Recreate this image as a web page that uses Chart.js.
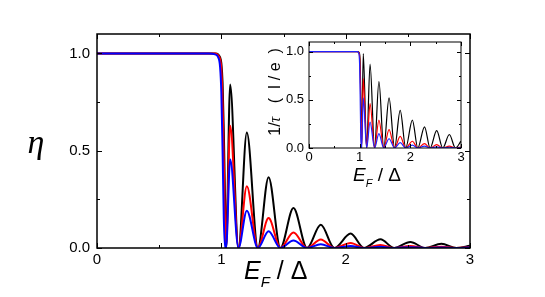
<!DOCTYPE html>
<html><head><meta charset="utf-8">
<script src="https://cdn.jsdelivr.net/npm/chart.js@4/dist/chart.umd.min.js"></script>
<style>
html,body{margin:0;padding:0;background:#fff;}
#wrap{position:relative;width:545px;height:297px;}
canvas{position:absolute;left:0;top:0;}
</style></head>
<body><div id="wrap"><canvas id="main" width="545" height="297"></canvas><canvas id="inset" width="545" height="297"></canvas></div>
<script>
// E_F / Delta sample positions (shared by all curves)
const xE = [0, 0.9, 0.95, 0.975, 0.99, 1.0, 1.01, 1.02, 1.03, 1.038, 1.071, 1.138, 1.205, 1.294, 1.38, 1.475, 1.58, 1.689, 1.80, 1.909, 2.04, 2.147, 2.28, 2.39, 2.52, 2.64, 2.77, 2.89, 3.0];
// main panel: eta
const etaBlack = [1, 1, 1, 0.995, 0.98, 0.95, 0.85, 0.6, 0.25, 0, 0.84, 0, 0.594, 0, 0.364, 0, 0.206, 0, 0.12, 0, 0.074, 0, 0.045, 0, 0.031, 0, 0.022, 0, 0.012];
const etaRed   = [1, 1, 1, 0.99, 0.97, 0.92, 0.75, 0.45, 0.12, 0, 0.628, 0, 0.317, 0, 0.154, 0, 0.08, 0, 0.044, 0, 0.026, 0, 0.016, 0, 0.01, 0, 0.007, 0, 0.004];
const etaBlue  = [1, 1, 0.995, 0.98, 0.93, 0.8, 0.5, 0.15, 0, 0, 0.456, 0, 0.192, 0, 0.086, 0, 0.038, 0, 0.019, 0, 0.01, 0, 0.006, 0, 0.004, 0, 0.003, 0, 0.002];
// inset: 1/tau (I/e)
const tauBlack = [1, 1, 1, 0.998, 0.99, 0.97, 0.88, 0.6, 0.25, 0, 0.98, 0, 0.87, 0, 0.69, 0, 0.52, 0, 0.39, 0, 0.29, 0, 0.22, 0, 0.18, 0, 0.14, 0, 0.07];
const tauRed   = [1, 1, 1, 0.995, 0.98, 0.94, 0.8, 0.5, 0.15, 0, 0.72, 0, 0.46, 0, 0.29, 0, 0.19, 0, 0.12, 0, 0.07, 0, 0.045, 0, 0.034, 0, 0.02, 0, 0.01];
const tauBlue  = [1, 1, 1, 0.99, 0.96, 0.85, 0.55, 0.18, 0, 0, 0.52, 0, 0.27, 0, 0.15, 0, 0.096, 0, 0.055, 0, 0.03, 0, 0.02, 0, 0.012, 0, 0.008, 0, 0.004];
// ticks
const xTicks = [0, 1, 2, 3];
const xMinorTicks = [0.5, 1.5, 2.5];
const yTicks = [0, 0.5, 1.0];
const yMinorTicks = [0.25, 0.75];

function ds(ys, color, w, order){
  return {data: xE.map((x,i)=>({x:x, y:ys[i]})), borderColor: color, borderWidth: w,
    pointRadius: 0, cubicInterpolationMode: 'monotone', fill: false, order: order};
}

function framePlugin(lw, majorLen, minorLen){
  return {id:'frame', afterDraw(chart){
    const ctx = chart.ctx, a = chart.chartArea, xs = chart.scales.x, ys = chart.scales.y;
    ctx.save();
    ctx.strokeStyle = '#000'; ctx.lineWidth = lw;
    ctx.strokeRect(a.left, a.top, a.right-a.left, a.bottom-a.top);
    ctx.lineWidth = 1;
    ctx.beginPath();
    const tx = (v,len)=>{const p=Math.round(xs.getPixelForValue(v))+0.5;
      ctx.moveTo(p,a.bottom); ctx.lineTo(p,a.bottom-len); ctx.moveTo(p,a.top); ctx.lineTo(p,a.top+len);};
    const ty = (v,len)=>{const p=Math.round(ys.getPixelForValue(v))+0.5;
      ctx.moveTo(a.left,p); ctx.lineTo(a.left+len,p); ctx.moveTo(a.right,p); ctx.lineTo(a.right-len,p);};
    xTicks.forEach(v=>tx(v,majorLen)); xMinorTicks.forEach(v=>tx(v,minorLen));
    yTicks.forEach(v=>ty(v,majorLen)); yMinorTicks.forEach(v=>ty(v,minorLen));
    ctx.stroke();
    ctx.restore();
  }};
}

function drawEF(ctx, x, y, size){
  ctx.textBaseline = 'alphabetic'; ctx.textAlign = 'left';
  ctx.font = 'italic ' + size + 'px "Liberation Sans", Arial, sans-serif';
  ctx.fillText('E', x, y);
  let w = ctx.measureText('E').width;
  const sub = Math.round(size*0.6);
  ctx.font = 'italic ' + sub + 'px "Liberation Sans", Arial, sans-serif';
  ctx.fillText('F', x + w, y + size*0.3);
  w += ctx.measureText('F').width;
  ctx.font = size + 'px "Liberation Sans", Arial, sans-serif';
  ctx.fillText(' / \u0394', x + w, y);
}

function scalesCfg(yWidth, xHeight, fontSize, xPad, yPad){
  return {
    x: {type:'linear', min:0, max:3,
      afterBuildTicks: s=>{ s.ticks = xTicks.map(v=>({value:v})); },
      afterFit: s=>{ s.height = xHeight; },
      grid:{display:false, drawTicks:false, tickLength:0}, border:{display:false},
      ticks:{color:'#000', padding:xPad, maxRotation:0, font:{family:'"Liberation Sans", Arial, sans-serif', size:fontSize}, callback: v=>String(v)}},
    y: {type:'linear', min:0, max:1.1,
      afterBuildTicks: s=>{ s.ticks = yTicks.map(v=>({value:v})); },
      afterFit: s=>{ s.width = yWidth; },
      grid:{display:false, drawTicks:false, tickLength:0}, border:{display:false},
      ticks:{color:'#000', padding:yPad, font:{family:'"Liberation Sans", Arial, sans-serif', size:fontSize}, callback: v=>Number(v).toFixed(1)}}
  };
}

const commonOpts = {responsive:false, animation:false, devicePixelRatio:1,
  plugins:{legend:{display:false}, tooltip:{enabled:false}}};

new Chart(document.getElementById('main'), {
  type:'line',
  data:{datasets:[ds(etaBlack,'#000000',2,3), ds(etaRed,'#ff0000',2,2), ds(etaBlue,'#0000ff',2,1)]},
  options: Object.assign({}, commonOpts, {
    layout:{padding:{left:0, right:75, top:34, bottom:0}},
    scales: scalesCfg(97, 49, 15, 3, 7)
  }),
  plugins:[framePlugin(1.5, 5, 3), {id:'titles', afterDraw(chart){
    const ctx = chart.ctx; ctx.save(); ctx.fillStyle = '#000';
    ctx.font = 'italic 34px "Liberation Serif", "Times New Roman", serif';
    ctx.textAlign = 'center'; ctx.textBaseline = 'alphabetic';
    ctx.fillText('\u03b7', 36, 153);
    drawEF(ctx, 244, 279, 25);
    ctx.restore();
  }}]
});

new Chart(document.getElementById('inset'), {
  type:'line',
  data:{datasets:[ds(tauBlack,'#000000',1.2,3), ds(tauRed,'#ff0000',1.2,2), ds(tauBlue,'#2020ff',1.2,1)]},
  options: Object.assign({}, commonOpts, {
    layout:{padding:{left:269, right:84, top:42, bottom:130}},
    scales: scalesCfg(40, 19, 13, 2, 5)
  }),
  plugins:[framePlugin(1, 4, 2), {id:'titles', afterDraw(chart){
    const ctx = chart.ctx; ctx.save(); ctx.fillStyle = '#000';
    drawEF(ctx, 353, 181, 19);
    ctx.translate(276, 92); ctx.rotate(-Math.PI/2);
    ctx.textBaseline = 'middle'; ctx.textAlign = 'left';
    const f = '16px "Liberation Sans", Arial, sans-serif';
    const fi = 'italic 16px "Liberation Serif", serif';
    const parts = [['1/', f], ['\u03c4', fi], ['   (  I / e  )', f]];
    let total = 0; parts.forEach(p=>{ctx.font=p[1]; total += ctx.measureText(p[0]).width;});
    let x = -total/2;
    parts.forEach(p=>{ctx.font=p[1]; ctx.fillText(p[0], x, 0); x += ctx.measureText(p[0]).width;});
    ctx.restore();
  }}]
});
</script></body></html>
